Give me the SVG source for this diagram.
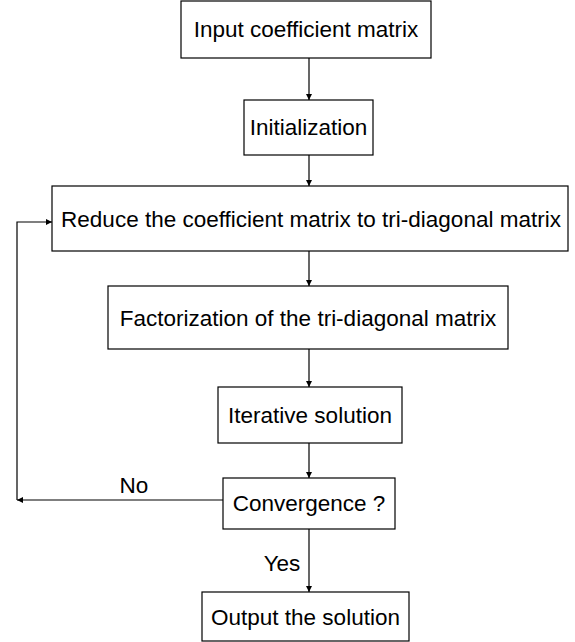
<svg xmlns="http://www.w3.org/2000/svg" width="575" height="642" viewBox="0 0 575 642">
<style>
.box{fill:#fff;stroke:#000;stroke-width:1.2}
.t{font-family:"Liberation Sans",Arial,sans-serif;font-size:22.5px;fill:#000;text-anchor:middle;dominant-baseline:central}
.c{fill:none;stroke:#000;stroke-width:1.2}
</style>
<defs>
<marker id="ah" viewBox="0 0 10 10" refX="10" refY="5" markerWidth="6" markerHeight="6" markerUnits="userSpaceOnUse" orient="auto">
<path d="M0,0 L10,5 L0,10 z" fill="#000"/>
</marker>
</defs>
<rect width="575" height="642" fill="#fff"/>
<g id="connectors">
<line class="c" x1="309" y1="58" x2="309" y2="100" marker-end="url(#ah)"/>
<line class="c" x1="309" y1="155" x2="309" y2="186" marker-end="url(#ah)"/>
<line class="c" x1="309" y1="251" x2="309" y2="286" marker-end="url(#ah)"/>
<line class="c" x1="309" y1="349" x2="309" y2="387" marker-end="url(#ah)"/>
<line class="c" x1="309" y1="443" x2="309" y2="478" marker-end="url(#ah)"/>
<line class="c" x1="309" y1="529" x2="309" y2="592" marker-end="url(#ah)"/>
<line class="c" x1="223" y1="500" x2="17" y2="500" marker-end="url(#ah)"/>
<polyline class="c" points="17,500 17,222 52,222" marker-end="url(#ah)"/>
<text class="t" x="134" y="485">No</text>
<text class="t" x="282" y="563">Yes</text>
</g>
<g id="n1"><rect class="box" x="181" y="1" width="250" height="57"/><text class="t" x="306" y="29">Input coefficient matrix</text></g>
<g id="n2"><rect class="box" x="244" y="100" width="129" height="55"/><text class="t" x="308.5" y="127">Initialization</text></g>
<g id="n3"><rect class="box" x="52" y="186" width="516" height="65"/><text class="t" x="311" y="219">Reduce the coefficient matrix to tri-diagonal matrix</text></g>
<g id="n4"><rect class="box" x="108" y="286" width="400" height="63"/><text class="t" x="308" y="318">Factorization of the tri-diagonal matrix</text></g>
<g id="n5"><rect class="box" x="218" y="387" width="184" height="56"/><text class="t" x="310" y="415">Iterative solution</text></g>
<g id="n6"><rect class="box" x="223" y="478" width="172" height="51"/><text class="t" x="309" y="503">Convergence ?</text></g>
<g id="n7"><rect class="box" x="202" y="592" width="207" height="49"/><text class="t" x="305.5" y="617">Output the solution</text></g>
</svg>
